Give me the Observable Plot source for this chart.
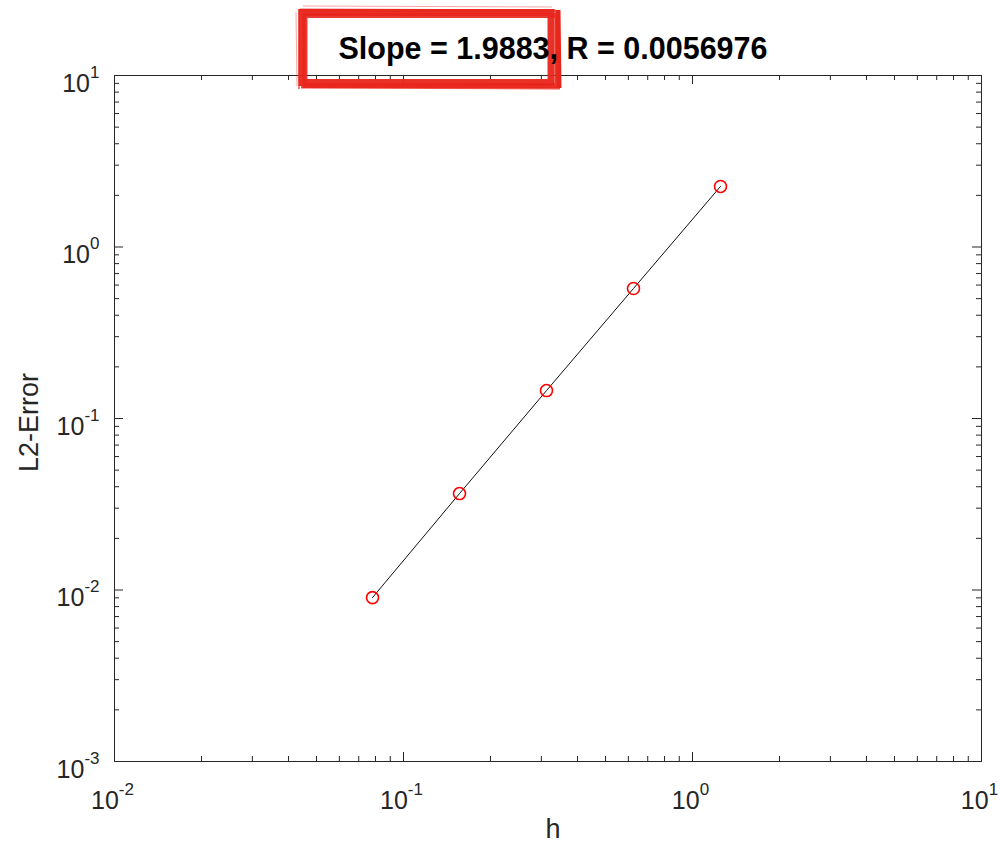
<!DOCTYPE html>
<html>
<head>
<meta charset="utf-8">
<script src="https://cdn.jsdelivr.net/npm/d3@7"></script>
<script src="https://cdn.jsdelivr.net/npm/@observablehq/plot@0.6"></script>
<style>
  html, body { margin: 0; padding: 0; background: #fff; }
  #chart svg { display: block; font-family: "Liberation Sans", Arial, Helvetica, sans-serif; }
</style>
</head>
<body>
<div id="chart"></div>
<script>
// ---- data ----
const h = [0.078125, 0.15625, 0.3125, 0.625, 1.25];
const l2Error = [0.00903, 0.0365, 0.1455, 0.573, 2.255];

const xMajorTicks = [0.01, 0.1, 1, 10];
const xTickLabels = ["10^-2", "10^-1", "10^0", "10^1"];
const yMajorTicks = [0.001, 0.01, 0.1, 1, 10];
const yTickLabels = ["10^-3", "10^-2", "10^-1", "10^0", "10^1"];
const minorMultipliers = [2, 3, 4, 5, 6, 7, 8, 9];

const titleText = "Slope = 1.9883, R = 0.0056976";
const xLabel = "h";
const yLabel = "L2-Error";

// ---- derived ----
const points = h.map((v, i) => ({h: v, err: l2Error[i]}));
const xMinor = xMajorTicks.slice(0, -1).flatMap(d => minorMultipliers.map(m => m * d));
const yMinor = yMajorTicks.slice(0, -1).flatMap(d => minorMultipliers.map(m => m * d));
const xLab = xMajorTicks.map((d, i) => ({v: d, t: xTickLabels[i]}));
const yLab = yMajorTicks.map((d, i) => ({v: d, t: yTickLabels[i]}));

const W = 1000, H = 844;
const mL = 114, mR = 19, mT = 75, mB = 83;
const plotH = H - mT - mB, plotW = W - mL - mR;
const majorLen = 9, minorLen = 5;
const axisColor = "#262626";

const chart = Plot.plot({
  width: W,
  height: H,
  marginLeft: mL,
  marginRight: mR,
  marginTop: mT,
  marginBottom: mB,
  x: {type: "log", domain: [0.01, 10], axis: null},
  y: {type: "log", domain: [0.001, 10], axis: null},
  marks: [
    // ticks bottom/top
    Plot.ruleX(xMajorTicks, {x: d => d, insetTop: plotH - majorLen, stroke: axisColor, strokeWidth: 1}),
    Plot.ruleX(xMajorTicks, {x: d => d, insetBottom: plotH - majorLen, stroke: axisColor, strokeWidth: 1}),
    Plot.ruleX(xMinor, {x: d => d, insetTop: plotH - minorLen, stroke: axisColor, strokeWidth: 1}),
    Plot.ruleX(xMinor, {x: d => d, insetBottom: plotH - minorLen, stroke: axisColor, strokeWidth: 1}),
    // ticks left/right
    Plot.ruleY(yMajorTicks, {y: d => d, insetRight: plotW - majorLen, stroke: axisColor, strokeWidth: 1}),
    Plot.ruleY(yMajorTicks, {y: d => d, insetLeft: plotW - majorLen, stroke: axisColor, strokeWidth: 1}),
    Plot.ruleY(yMinor, {y: d => d, insetRight: plotW - minorLen, stroke: axisColor, strokeWidth: 1}),
    Plot.ruleY(yMinor, {y: d => d, insetLeft: plotW - minorLen, stroke: axisColor, strokeWidth: 1}),
    Plot.frame({stroke: axisColor, strokeWidth: 1}),
    // tick labels
    Plot.text(xLab, {x: "v", text: "t", frameAnchor: "bottom", lineAnchor: "bottom", dx: -2, dy: 47,
      fontSize: 25, fill: axisColor, textAnchor: "middle"}),
    Plot.text(yLab, {y: "v", text: "t", frameAnchor: "left", lineAnchor: "bottom", dx: -15, dy: 16,
      fontSize: 25, fill: axisColor, textAnchor: "end"}),
    // axis labels
    Plot.text([xLabel], {text: d => d, frameAnchor: "bottom", lineAnchor: "bottom", textAnchor: "middle", dx: 5, dy: 76,
      fontSize: 27, fill: axisColor}),
    Plot.text([yLabel], {text: d => d, frameAnchor: "left", lineAnchor: "bottom", textAnchor: "middle", rotate: -90, dx: -77, dy: 4,
      fontSize: 27, fill: axisColor}),
    // title
    Plot.text([titleText], {text: d => d, frameAnchor: "top", lineAnchor: "bottom", textAnchor: "middle", dx: 5, dy: -17,
      fontSize: 30.5, fontWeight: "bold", fill: "#000"}),
    // data
    Plot.line(points, {x: "h", y: "err", stroke: "#111", strokeWidth: 1}),
    Plot.dot(points, {x: "h", y: "err", r: 6, stroke: "#ff0000", strokeWidth: 1.6, fill: "none"})
  ]
});

document.getElementById("chart").appendChild(chart);

const svg = d3.select(chart);

// superscript exponents in tick labels
svg.selectAll("text").filter(function() { return this.textContent.includes("^"); }).each(function() {
  const s = this.textContent;
  const [base, exp] = s.split("^");
  const t = d3.select(this);
  t.text(null);
  t.append("tspan").text(base);
  t.append("tspan").attr("dy", -14).attr("font-size", 17).text(exp);
});

// hand-drawn red annotation box behind the title
const titleNode = svg.selectAll("text").filter(function() { return this.textContent === titleText; }).node();
const titleGroup = titleNode ? titleNode.closest("g") : null;
const annNode = document.createElementNS("http://www.w3.org/2000/svg", "g");
if (titleGroup) titleGroup.parentNode.insertBefore(annNode, titleGroup); else chart.appendChild(annNode);
const ann = d3.select(annNode).attr("fill", "none").attr("stroke", "#e8261c").attr("stroke-linejoin", "miter");
ann.append("rect").attr("x", 302).attr("y", 12.5).attr("width", 249).attr("height", 70).attr("stroke-width", 7).attr("opacity", 0.95);
ann.append("rect").attr("x", 305).attr("y", 15.5).attr("width", 252).attr("height", 70).attr("stroke-width", 5).attr("opacity", 0.9);
ann.append("path").attr("d", "M558,10 L559,88").attr("stroke-width", 5);
ann.append("path").attr("d", "M300,10 L556,11").attr("stroke-width", 3).attr("opacity", 0.7);
ann.append("path").attr("d", "M301,87 L560,88").attr("stroke-width", 3).attr("opacity", 0.8);
ann.append("path").attr("d", "M299,9 L299,89").attr("stroke-width", 2).attr("opacity", 0.6);
ann.append("path").attr("d", "M296,12 L297,86").attr("stroke-width", 1).attr("opacity", 0.4);
ann.append("path").attr("d", "M303,6 L552,7").attr("stroke-width", 1).attr("opacity", 0.4);
</script>
</body>
</html>
